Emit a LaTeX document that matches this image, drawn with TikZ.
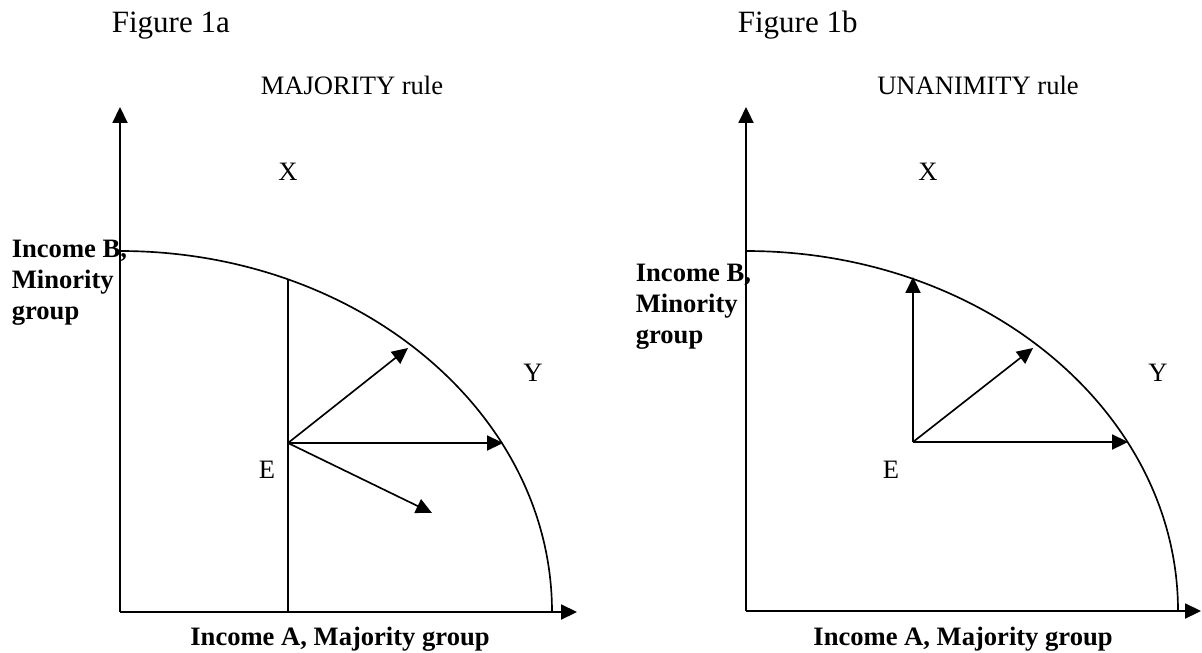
\documentclass[tikz,border=0pt]{standalone}
\usepackage{fontspec}
\setmainfont{Liberation Serif}
\usetikzlibrary{arrows.meta}

\begin{document}
\begin{tikzpicture}[x=0.4515pt, y=-0.4515pt, line width=0.75pt,
    axis/.style={-{Triangle[length=7.2pt,width=6.8pt]}},
    move/.style={-{Triangle[length=7.2pt,width=6.8pt]}},
    axislabel/.style={font=\fontsize{12}{13.8}\selectfont\bfseries, inner sep=0pt, align=left},
    pointlabel/.style={font=\fontsize{12}{13.8}\selectfont, inner sep=0pt},
    figlabel/.style={font=\fontsize{14}{16}\selectfont, inner sep=0pt, anchor=base west}]

\useasboundingbox (0,0) rectangle (1202,653);

% Figure 1a: majority rule
\node[figlabel] (figA) at (111,33) {Figure 1a};
\node[pointlabel, anchor=base] (ruleA) at (352,95) {MAJORITY rule};

% axes
\coordinate (OA) at (120,612);
\coordinate (yA) at (120,107);
\coordinate (xA) at (577,612);
\draw[axis] (OA) -- (yA);
\draw[axis] (OA) -- (xA);
\node[axislabel, anchor=base west] (incBA) at (11,319) {Income B,\\Minority\\group};
\node[axislabel, anchor=base] (incAA) at (340,645) {Income A, Majority group};

% frontier
\coordinate (topA) at (120,251);
\draw (topA) arc[start angle=-90, end angle=0, x radius=432, y radius=361];

% point E and the moves from it
\coordinate (EA) at (288,443);
\coordinate (footA) at (288,612);
\coordinate (capA) at (288,279);
\coordinate (diagA) at (408,348);
\coordinate (rightA) at (503,443);
\coordinate (downA) at (432,513);
\draw (footA) -- (capA);
\draw[move] (EA) -- (diagA);
\draw[move] (EA) -- (rightA);
\draw[move] (EA) -- (downA);

\node[pointlabel] (XA) at (288,172) {X};
\node[pointlabel] (YA) at (533,373) {Y};
\node[pointlabel] (EAl) at (267,470) {E};

% Figure 1b: unanimity rule
\node[figlabel] (figB) at (737,33) {Figure 1b};
\node[pointlabel, anchor=base] (ruleB) at (978,95) {UNANIMITY rule};

% axes
\coordinate (OB) at (746,611);
\coordinate (yB) at (746,107);
\coordinate (xB) at (1201,611);
\draw[axis] (OB) -- (yB);
\draw[axis] (OB) -- (xB);
\node[axislabel, anchor=base west] (incBB) at (635,343) {Income B,\\Minority\\group};
\node[axislabel, anchor=base] (incAB) at (963,645) {Income A, Majority group};

% frontier
\coordinate (topB) at (746,251);
\draw (topB) arc[start angle=-90, end angle=0, x radius=432, y radius=360];

% point E and the moves from it
\coordinate (EB) at (913,442);
\coordinate (upB) at (913,277);
\coordinate (diagB) at (1033,348);
\coordinate (rightB) at (1128,442);
\draw[move] (EB) -- (upB);
\draw[move] (EB) -- (diagB);
\draw[move] (EB) -- (rightB);

\node[pointlabel] (XB) at (928,172) {X};
\node[pointlabel] (YB) at (1158,373) {Y};
\node[pointlabel] (EBl) at (891,470) {E};
\end{tikzpicture}
\end{document}
